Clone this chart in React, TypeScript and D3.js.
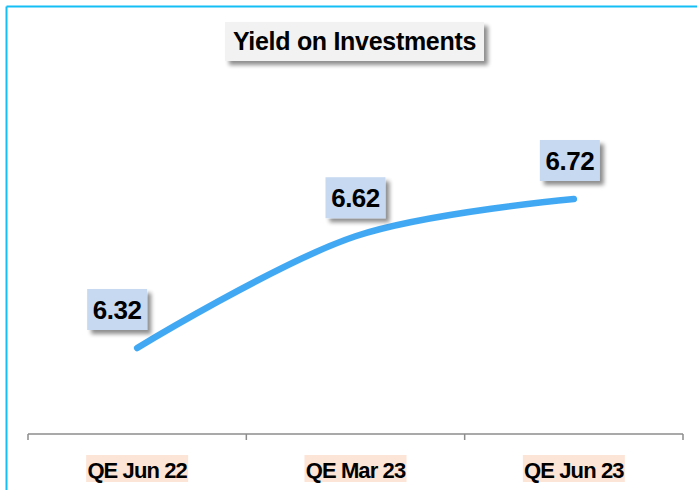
import React from "react";
import * as d3 from "d3";

const categories = ["QE Jun 22", "QE Mar 23", "QE Jun 23"];
const values = [6.32, 6.62, 6.72];
const labelOffsets = [-20, 0, -4];
const title = "Yield on Investments";

export default function App() {
  const W = 697, H = 490;
  const x = d3.scaleBand().domain(categories).range([28, 683]).padding(0);
  const y = d3.scaleLinear().domain([6.32, 6.72]).range([348, 199]);
  const cx = (c: string) => (x(c) as number) + x.bandwidth() / 2;
  const pts: [number, number][] = categories.map((c, i) => [cx(c), y(values[i])]);
  const line = d3.line().curve(d3.curveCatmullRom.alpha(0.5))(pts) || "";
  const axisY = 434;
  const ticks = [...categories.map((c) => x(c) as number), 683];
  const font = "Arial, 'Liberation Sans', sans-serif";
  return (
    <svg width={W} height={H} style={{ position: "absolute", left: 0, top: 0, background: "#fff" }}>
      <defs>
        <filter id="sh" x="-20%" y="-20%" width="150%" height="160%">
          <feGaussianBlur in="SourceAlpha" stdDeviation="2" />
          <feOffset dx="4" dy="4" result="o" />
          <feComponentTransfer><feFuncA type="linear" slope="0.45" /></feComponentTransfer>
          <feMerge><feMergeNode /><feMergeNode in="SourceGraphic" /></feMerge>
        </filter>
      </defs>
      <line x1={6.5} y1={6.5} x2={W} y2={6.5} stroke="#14bff5" strokeWidth={2} />
      <line x1={6.5} y1={6.5} x2={6.5} y2={H} stroke="#14bff5" strokeWidth={2} />
      <rect x={225} y={22} width={259} height={39} fill="#f2f2f2" filter="url(#sh)" />
      <text x={354.5} y={50} textAnchor="middle" fontFamily={font} fontWeight="bold" fontSize={25} fill="#000" letterSpacing={-0.3}>{title}</text>
      <line x1={28} y1={axisY} x2={683} y2={axisY} stroke="#8c8c8c" strokeWidth={1.5} />
      {ticks.map((t, i) => (
        <line key={i} x1={t} y1={axisY} x2={t} y2={axisY + 6} stroke="#8c8c8c" strokeWidth={1.5} />
      ))}
      {categories.map((c) => (
        <g key={c}>
          <rect x={cx(c) - 51} y={455} width={102} height={27} fill="#fce4d6" />
          <text x={cx(c)} y={478} textAnchor="middle" fontFamily={font} fontWeight="bold" fontSize={22} letterSpacing={-0.9} fill="#000">{c}</text>
        </g>
      ))}
      <path d={line} fill="none" stroke="#41a9f4" strokeWidth={6.5} strokeLinecap="round" />
      {categories.map((c, i) => {
        const bx = cx(c) + labelOffsets[i];
        const by = y(values[i]) - 18;
        return (
          <g key={"l" + c}>
            <rect x={bx - 30} y={by - 41} width={60} height={41} fill="#c6d9f1" filter="url(#sh)" />
            <text x={bx} y={by - 11} textAnchor="middle" fontFamily={font} fontWeight="bold" fontSize={26} fill="#000" letterSpacing={-0.5}>{values[i].toFixed(2)}</text>
          </g>
        );
      })}
    </svg>
  );
}
